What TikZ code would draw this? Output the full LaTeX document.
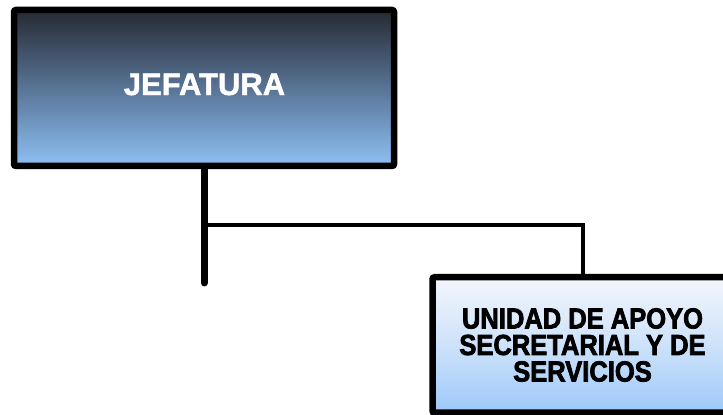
\documentclass[tikz,border=0pt]{standalone}
\usepackage{fontspec}
\setmainfont{Liberation Sans}
\newfontfamily\jefafont[FakeBold=1.5]{Liberation Sans Bold}
\newfontfamily\unitfont[FakeBold=2.5,FakeStretch=0.88]{Liberation Sans Bold}
\definecolor{jtop}{RGB}{38,42,50}
\definecolor{jmid}{RGB}{88,116,150}
\definecolor{jbot}{RGB}{142,192,244}
\definecolor{utop}{RGB}{243,246,252}
\definecolor{umid}{RGB}{205,226,250}
\definecolor{ubot}{RGB}{158,200,250}
\tikzset{
  orgbox/.style={draw=black, line width=6.5pt, rounded corners=2pt, inner sep=0pt},
  thickline/.style={line width=7pt, line cap=round},
  thinline/.style={line width=4pt},
}
\begin{document}
\begin{tikzpicture}[x=1pt,y=1pt]
\useasboundingbox (0,0) rectangle (723,415);
\clip (0,0) rectangle (723,415);
% top box
\node[orgbox, minimum width=380pt, minimum height=156pt,
      top color=jtop, bottom color=jbot, middle color=jmid] (jef) at (204,327) {};
\node[text=white, inner sep=0pt, font=\jefafont\fontsize{31}{33}\selectfont] (jeft) at (204.5,330.5) {JEFATURA};
% unit box
\node[orgbox, minimum width=300pt, minimum height=135.5pt,
      top color=utop, bottom color=ubot, middle color=umid] (unit) at (582.5,70) {};
\node[text=black, inner sep=0pt, align=center,
      font=\unitfont\fontsize{29}{26.5}\selectfont] (unitt) at (582.5,70) {UNIDAD DE APOYO\\SECRETARIAL Y DE\\SERVICIOS};
% connectors
\coordinate (stemend) at (204,132);
\coordinate (branch) at (204,189.5);
\draw[thickline] (jef.south) -- (stemend);
\draw[thinline] (branch) -| (unit.north);
\end{tikzpicture}
\end{document}
